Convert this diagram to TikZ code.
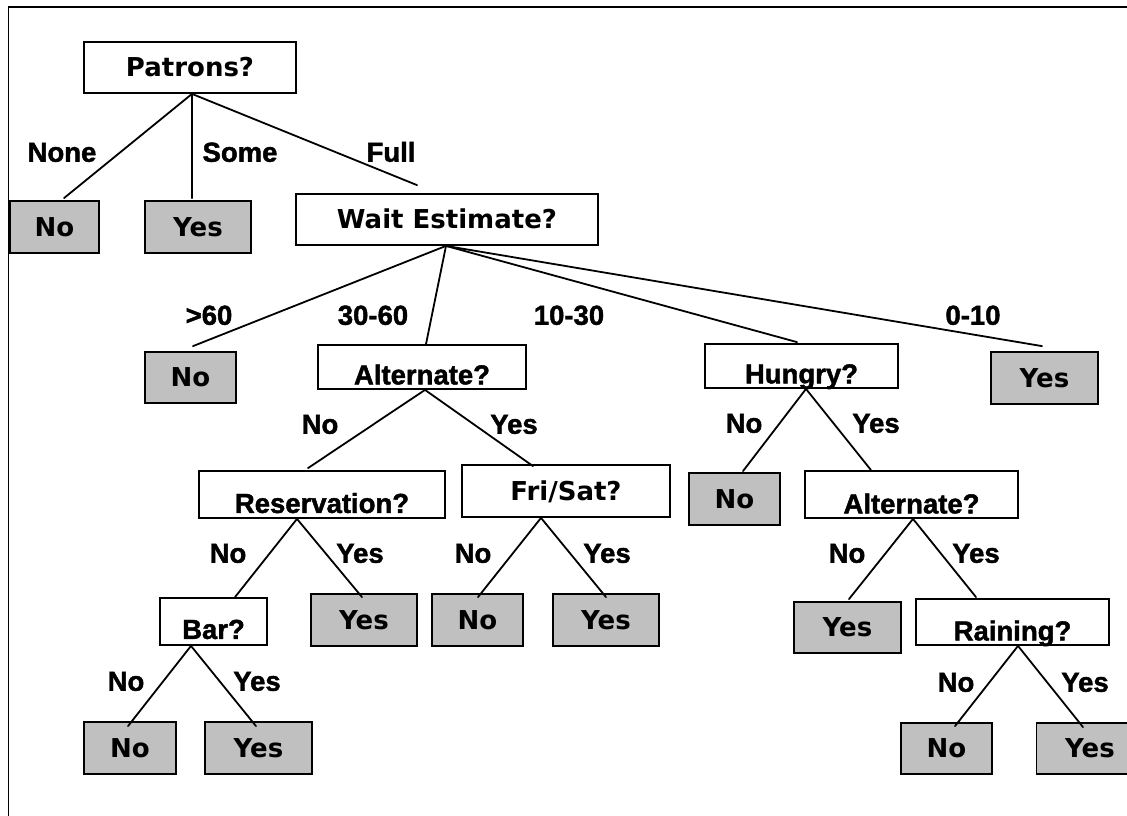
\documentclass[tikz,border=0pt]{standalone}
\usepackage{fontspec}
\newfontfamily\boxfont{DejaVu Sans Bold}
\newfontfamily\labfont{Liberation Sans Bold}[FakeBold=1.6]
\definecolor{leafgray}{HTML}{C0C0C0}
\tikzset{
  boxline/.style={draw=black, line width=1.8pt, inner sep=0pt},
  qbox/.style={boxline, fill=white},
  dvbox/.style={qbox, font=\boxfont\fontsize{26}{26}\selectfont,
                text height=18.5pt, text depth=0pt},
  leaf/.style={boxline, fill=leafgray, font=\boxfont\fontsize{26}{26}\selectfont,
               text height=18.5pt, text depth=0pt},
  qtext/.style={font=\labfont\fontsize{27.5}{27.5}\selectfont, inner sep=0pt, anchor=base},
  blabel/.style={font=\labfont\fontsize{27.5}{27.5}\selectfont, inner sep=0pt,
                 text height=19.5pt, text depth=0pt},
  edge/.style={line width=1.8pt, line cap=round}
}
\begin{document}
\begin{tikzpicture}[x=1pt, y=-1pt]
\useasboundingbox (0,0) rectangle (1127,815);
\clip (0,0) rectangle (1127,815);
% outer frame
\draw[line width=1.8pt] (8.5,820) -- (8.5,7) -- (1135,7);

% root level
\node[dvbox, minimum width=212pt, minimum height=51pt] (patrons) at (190,67.5) {Patrons?};
\node[leaf, minimum width=89pt, minimum height=52pt] (noA) at (54.5,227) {No};
\node[leaf, minimum width=106pt, minimum height=52pt] (yesA) at (198,227) {Yes};
\node[dvbox, minimum width=302pt, minimum height=51pt] (wait) at (447,219.5) {Wait Estimate?};

% wait estimate children
\node[leaf, minimum width=91pt, minimum height=51pt] (no60) at (190.5,377.5) {No};
\node[qbox, minimum width=208pt, minimum height=44pt] (alt1) at (422,367) {};
\node[qtext] (alt1t) at ([yshift=5.5pt]alt1.south) {Alternate?};
\node[qbox, minimum width=193pt, minimum height=44pt] (hungry) at (801.5,366) {};
\node[qtext] (hungryt) at ([yshift=5.5pt]hungry.south) {Hungry?};
\node[leaf, minimum width=107pt, minimum height=52pt] (yes010) at (1044.5,378) {Yes};

% alternate (left) subtree
\node[qbox, minimum width=246pt, minimum height=47pt] (res) at (322,494.5) {};
\node[qtext] (rest) at ([yshift=6pt]res.south) {Reservation?};
\node[dvbox, minimum width=208pt, minimum height=52pt] (fri) at (566,491) {Fri/Sat?};
\node[qbox, minimum width=107pt, minimum height=47pt] (bar) at (213.5,621.5) {};
\node[qtext] (bart) at ([yshift=7pt]bar.south) {Bar?};
\node[leaf, minimum width=106pt, minimum height=52pt] (resyes) at (364,620) {Yes};
\node[leaf, minimum width=91pt, minimum height=52pt] (frino) at (477.5,620) {No};
\node[leaf, minimum width=106pt, minimum height=52pt] (friyes) at (606,620) {Yes};
\node[leaf, minimum width=92pt, minimum height=52pt] (barno) at (130,748) {No};
\node[leaf, minimum width=107pt, minimum height=52pt] (baryes) at (258.5,748) {Yes};

% hungry subtree
\node[leaf, minimum width=91pt, minimum height=52pt] (hno) at (734.5,499) {No};
\node[qbox, minimum width=213pt, minimum height=47pt] (alt2) at (911.5,494.5) {};
\node[qtext] (alt2t) at ([yshift=5.5pt]alt2.south) {Alternate?};
\node[leaf, minimum width=107pt, minimum height=51pt] (a2yes) at (847.5,627.5) {Yes};
\node[qbox, minimum width=193pt, minimum height=46pt] (rain) at (1012.5,622) {};
\node[qtext] (raint) at ([yshift=5.5pt]rain.south) {Raining?};
\node[leaf, minimum width=91pt, minimum height=51pt] (rno) at (946.5,748.5) {No};
\node[leaf, minimum width=107pt, minimum height=51pt] (ryes) at (1090,748.5) {Yes};

% branches
\draw[edge] ([xshift=2pt]patrons.south) -- ([xshift=9.5pt,yshift=2pt]noA.north);
\draw[edge] ([xshift=2pt]patrons.south) -- ([xshift=-6pt,yshift=2pt]yesA.north);
\draw[edge] ([xshift=2pt]patrons.south) -- ([xshift=-30pt,yshift=8pt]wait.north);

\draw[edge] ([xshift=-1pt]wait.south) -- ([xshift=2.5pt,yshift=5pt]no60.north);
\draw[edge] ([xshift=-1pt]wait.south) -- ([xshift=4pt]alt1.north);
\draw[edge] ([xshift=-1pt]wait.south) -- ([xshift=-4.5pt,yshift=1pt]hungry.north);
\draw[edge] ([xshift=-1pt]wait.south) -- ([xshift=-2.5pt,yshift=5pt]yes010.north);

\draw[edge] ([xshift=3pt]alt1.south) -- ([xshift=-14pt,yshift=2pt]res.north);
\draw[edge] ([xshift=3pt]alt1.south) -- ([xshift=-33pt,yshift=-2pt]fri.north);

\draw[edge] ([xshift=-25pt]res.south) -- ([xshift=21.5pt]bar.north);
\draw[edge] ([xshift=-25pt]res.south) -- ([xshift=-2pt,yshift=-4pt]resyes.north);

\draw[edge] ([xshift=-25pt]fri.south) -- ([xshift=0.5pt,yshift=-4pt]frino.north);
\draw[edge] ([xshift=-25pt]fri.south) -- ([yshift=-4pt]friyes.north);

\draw[edge] ([xshift=-22.5pt]bar.south) -- ([xshift=-2pt,yshift=-5pt]barno.north);
\draw[edge] ([xshift=-22.5pt]bar.south) -- ([xshift=-2.5pt,yshift=-5pt]baryes.north);

\draw[edge] ([xshift=4.5pt]hungry.south) -- ([xshift=8.5pt,yshift=1pt]hno.north);
\draw[edge] ([xshift=4.5pt]hungry.south) -- ([xshift=-40.5pt]alt2.north);

\draw[edge] ([xshift=1.5pt]alt2.south) -- ([xshift=1.5pt,yshift=2pt]a2yes.north);
\draw[edge] ([xshift=1.5pt]alt2.south) -- ([xshift=-36.5pt,yshift=1pt]rain.north);

\draw[edge] ([xshift=5.5pt]rain.south) -- ([xshift=8.5pt,yshift=-4pt]rno.north);
\draw[edge] ([xshift=5.5pt]rain.south) -- ([xshift=-7pt,yshift=-5pt]ryes.north);

% branch labels
\node[blabel] (lNone) at (62,152) {None};
\node[blabel] (lSome) at (240,152) {Some};
\node[blabel] (lFull) at (391,152) {Full};

\node[blabel] (l60) at (209,315) {>60};
\node[blabel] (l3060) at (373,315) {30-60};
\node[blabel] (l1030) at (569,315) {10-30};
\node[blabel] (l010) at (973,315) {0-10};

\node[blabel] (la1no) at (320,424) {No};
\node[blabel] (la1yes) at (514,424) {Yes};
\node[blabel] (lresno) at (228,553) {No};
\node[blabel] (lresyes) at (360,553) {Yes};
\node[blabel] (lfrino) at (473,553) {No};
\node[blabel] (lfriyes) at (607,553) {Yes};
\node[blabel] (lbarno) at (126,681) {No};
\node[blabel] (lbaryes) at (257,681) {Yes};

\node[blabel] (lhno) at (744,423) {No};
\node[blabel] (lhyes) at (876,423) {Yes};
\node[blabel] (la2no) at (847,553) {No};
\node[blabel] (la2yes) at (976,553) {Yes};
\node[blabel] (lrno) at (956,682) {No};
\node[blabel] (lryes) at (1085,682) {Yes};
\end{tikzpicture}
\end{document}
